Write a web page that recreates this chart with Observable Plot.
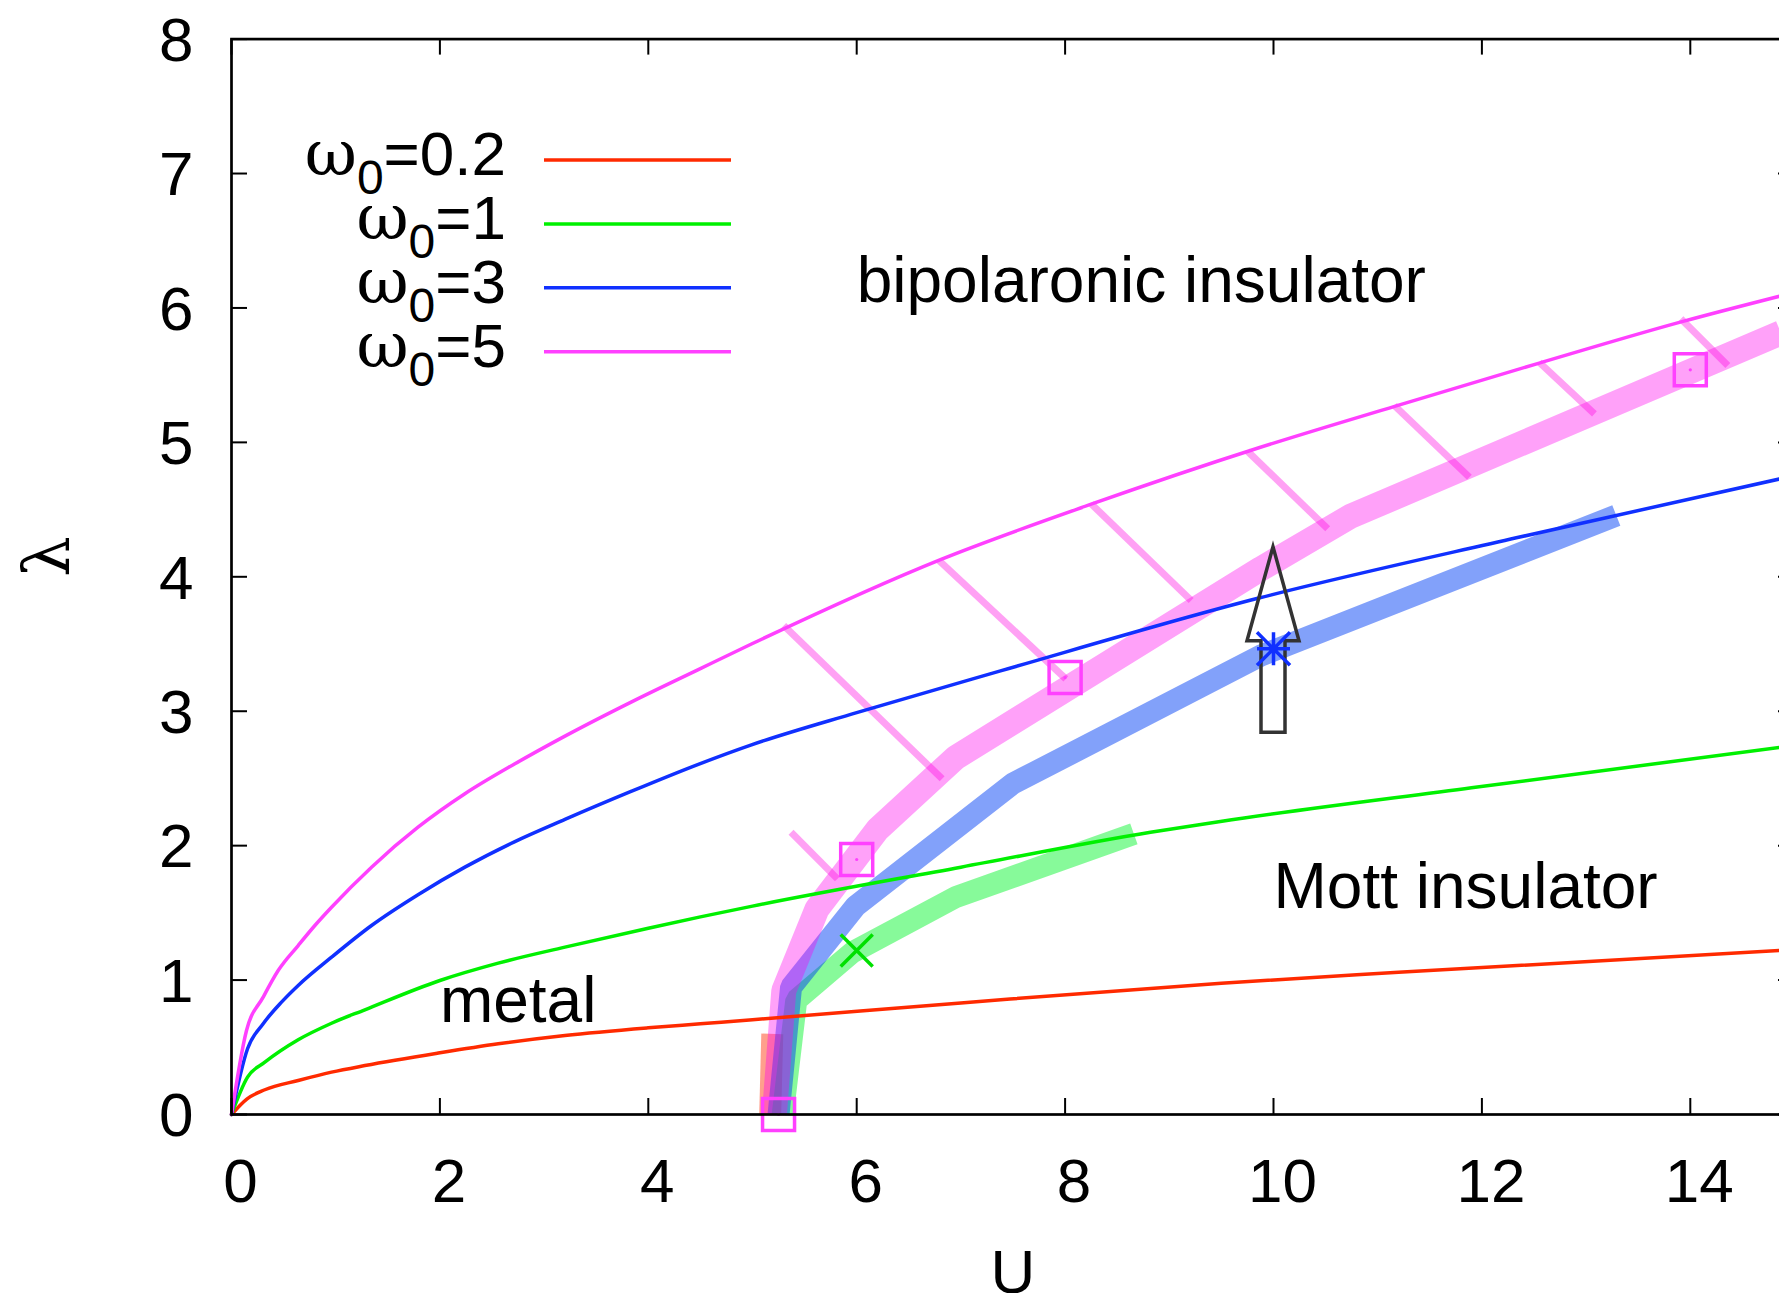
<!DOCTYPE html>
<html>
<head>
<meta charset="utf-8">
<script src="https://cdn.jsdelivr.net/npm/d3@7"></script>
<script src="https://cdn.jsdelivr.net/npm/@observablehq/plot@0.6"></script>
<style>
html, body { margin: 0; padding: 0; background: #fff; }
#wrap { width: 1779px; height: 1293px; overflow: hidden; }
#wrap svg { max-width: none !important; display: block; }
</style>
</head>
<body>
<div id="wrap"></div>
<script>
// ---------- data ----------
// thin curves: lambda_c(U) for each phonon frequency
const redU   = [0, 0.15, 0.32, 0.64, 0.96, 1.28, 2.0, 2.56, 3.2, 4.0, 4.5, 5.0, 7.0, 9.5, 11.2, 14.87];
const redL   = [0, 0.117, 0.184, 0.253, 0.315, 0.364, 0.459, 0.526, 0.588, 0.645, 0.675, 0.705, 0.83, 0.977, 1.058, 1.22];
const greenU = [0, 0.154, 0.32, 0.64, 0.96, 1.28, 2.0, 2.56, 3.2, 4.0, 4.5, 5.0, 7.0, 8.82, 9.49, 11.9, 14.87];
const greenL = [0, 0.278, 0.389, 0.556, 0.679, 0.779, 0.997, 1.126, 1.245, 1.386, 1.47, 1.55, 1.84, 2.10, 2.18, 2.43, 2.732];
const blueU  = [0, 0.154, 0.304, 0.48, 0.64, 0.96, 1.344, 1.79, 2.24, 2.72, 3.2, 3.84, 4.48, 4.99, 6.0, 7.38, 9.85, 12.33, 14.87];
const blueL  = [0, 0.489, 0.675, 0.836, 0.96, 1.17, 1.406, 1.635, 1.84, 2.03, 2.195, 2.405, 2.605, 2.75, 2.99, 3.30, 3.84, 4.29, 4.73];
const magU   = [0, 0.144, 0.304, 0.448, 0.64, 0.8, 0.96, 1.344, 1.79, 2.24, 2.72, 3.2, 3.84, 4.48, 4.99, 6.81, 8.25, 9.86, 11.17, 12.55, 13.93, 14.87];
const magL   = [0, 0.625, 0.873, 1.071, 1.257, 1.406, 1.542, 1.84, 2.137, 2.386, 2.609, 2.815, 3.07, 3.31, 3.50, 4.13, 4.54, 4.96, 5.27, 5.59, 5.90, 6.09];

// thick (transparent) transition lines
const bandRedU   = [5.17, 5.19];
const bandRedL   = [0, 0.6];
const bandGreenU = [5.29, 5.42, 5.96, 6.95, 8.66];
const bandGreenL = [0, 0.85, 1.207, 1.617, 2.088];
const bandBlueU  = [5.25, 5.37, 5.99, 7.495, 9.88, 13.29];
const bandBlueL  = [0, 0.947, 1.55, 2.46, 3.414, 4.456];
const bandPinkU  = [5.21, 5.30, 5.62, 6.2, 6.95, 9.88, 10.74, 14.87];
const bandPinkL  = [0, 0.92, 1.53, 2.12, 2.655, 4.06, 4.45, 5.815];

// hatch segments between the omega0=5 curves
const hatchU1 = [5.37, 5.30, 6.79, 8.25, 9.75, 11.16, 12.55, 13.91];
const hatchL1 = [2.10, 3.638, 4.121, 4.543, 4.935, 5.274, 5.596, 5.919];
const hatchU2 = [5.815, 6.82, 8.007, 9.21, 10.52, 11.88, 13.08, 14.36];
const hatchL2 = [1.753, 2.497, 3.241, 3.824, 4.357, 4.741, 5.212, 5.572];

// point markers
const squareU = [5.25, 6, 8, 14];
const squareL = [0, 1.897, 3.25, 5.54];
const crossU = [6];
const crossL = [1.22];
const starU = [10];
const starL = [3.464];

// arrow annotation
const arrowU = 10, arrowTail = 2.84, arrowHeadBase = 3.52, arrowTip = 4.22;

// region labels
const regionText = ["bipolaronic insulator", "Mott insulator", "metal"];
const regionU = [6.0, 10.0, 2.0];
const regionL = [6.193, 1.692, 0.837];

// legend
const legendValues = ["0.2", "1", "3", "5"];
const legendColors = ["#ff2a00", "#00f000", "#1030ff", "#ff40ff"];

// axes
const xTicks = [0, 2, 4, 6, 8, 10, 12, 14];
const yTicks = [0, 1, 2, 3, 4, 5, 6, 7, 8];

// ---------- helpers ----------
const zip = (U, L) => U.map((u, i) => ({U: u, L: L[i]}));
const hatch = hatchU1.map((u, i) => ({u1: u, l1: hatchL1[i], u2: hatchU2[i], l2: hatchL2[i]}));
const regions = regionText.map((t, i) => ({t, U: regionU[i], L: regionL[i]}));

const half = (size) => Math.sqrt(size / Math.PI);
const gpSquare = {draw(ctx, size) { const h = half(size); ctx.moveTo(-h, -h); ctx.lineTo(h, -h); ctx.lineTo(h, h); ctx.lineTo(-h, h); ctx.closePath(); }};
const gpCross = {draw(ctx, size) { const h = half(size); ctx.moveTo(-h, -h); ctx.lineTo(h, h); ctx.moveTo(h, -h); ctx.lineTo(-h, h); }};
const gpStar = {draw(ctx, size) { const h = half(size); ctx.moveTo(-h, -h); ctx.lineTo(h, h); ctx.moveTo(h, -h); ctx.lineTo(-h, h); ctx.moveTo(-h, 0); ctx.lineTo(h, 0); ctx.moveTo(0, -h); ctx.lineTo(0, h); }};

const W = 1794, H = 1293, ML = 231, MR = 0, MT = 38.6, MB = 179;
const plotW = W - ML - MR, plotH = H - MT - MB;
const sans = "'Liberation Sans', Arial, Helvetica, sans-serif";
const serif = "'DejaVu Serif', 'Liberation Serif', 'Times New Roman', serif";

function arrowMark(index, scales) {
  const x = scales.x, y = scales.y;
  const cx = x(arrowU), yb = y(arrowTail), yh = y(arrowHeadBase), yt = y(arrowTip);
  const s = 12, hh = 26;
  const g = d3.create("svg:g");
  g.append("path")
    .attr("d", `M${cx - s},${yb}L${cx + s},${yb}L${cx + s},${yh}L${cx + hh},${yh}L${cx},${yt}L${cx - hh},${yh}L${cx - s},${yh}Z`)
    .attr("fill", "none").attr("stroke", "#333").attr("stroke-width", 3.5).attr("stroke-linejoin", "miter");
  return g.node();
}

function legendMark() {
  const g = d3.create("svg:g");
  legendValues.forEach((v, i) => {
    const yl = 160 + i * 63.9;
    g.append("line").attr("x1", 544).attr("x2", 731).attr("y1", yl).attr("y2", yl)
      .attr("stroke", legendColors[i]).attr("stroke-width", 3.5);
    const t = g.append("text").attr("x", 506).attr("y", yl + 15).attr("text-anchor", "end")
      .attr("font-size", 62).attr("font-family", sans).attr("fill", "black");
    t.append("tspan").attr("font-family", serif).attr("font-size", 64).text("ω");
    t.append("tspan").attr("font-size", 48).attr("dy", 19).text("0");
    t.append("tspan").attr("dy", -19).text("=" + v);
  });
  return g.node();
}

const plot = Plot.plot({
  width: W, height: H,
  marginLeft: ML, marginRight: MR, marginTop: MT, marginBottom: MB,
  x: {domain: [0, 15]},
  y: {domain: [0, 8]},
  style: {fontFamily: sans, background: "white", maxWidth: "none", overflow: "hidden"},
  marks: [
    // thick transition lines
    Plot.line(zip(bandRedU, bandRedL), {x: "U", y: "L", stroke: "#ff2a00", strokeOpacity: 0.45, strokeWidth: 22, strokeLinejoin: "miter", strokeLinecap: "butt"}),
    Plot.line(zip(bandGreenU, bandGreenL), {x: "U", y: "L", stroke: "#00f528", strokeOpacity: 0.47, strokeWidth: 22, strokeLinejoin: "miter", strokeLinecap: "butt"}),
    Plot.line(zip(bandBlueU, bandBlueL), {x: "U", y: "L", stroke: "#0040f5", strokeOpacity: 0.49, strokeWidth: 22, strokeLinejoin: "miter", strokeLinecap: "butt"}),
    Plot.line(zip(bandPinkU, bandPinkL), {x: "U", y: "L", stroke: "#ff00f0", strokeOpacity: 0.37, strokeWidth: 25, strokeLinejoin: "miter", strokeLinecap: "butt"}),
    Plot.link(hatch, {x1: "u1", y1: "l1", x2: "u2", y2: "l2", stroke: "#ff00e0", strokeOpacity: 0.37, strokeWidth: 7, strokeLinecap: "butt"}),
    // thin curves
    Plot.line(zip(redU, redL), {x: "U", y: "L", stroke: "#ff2a00", strokeWidth: 3.5, curve: "monotone-x"}),
    Plot.line(zip(greenU, greenL), {x: "U", y: "L", stroke: "#00f000", strokeWidth: 3.5, curve: "monotone-x"}),
    Plot.line(zip(blueU, blueL), {x: "U", y: "L", stroke: "#1030ff", strokeWidth: 3.5, curve: "monotone-x"}),
    Plot.line(zip(magU, magL), {x: "U", y: "L", stroke: "#ff40ff", strokeWidth: 3.5, curve: "monotone-x"}),
    // arrow
    arrowMark,
    // markers
    Plot.dot(zip(squareU, squareL), {x: "U", y: "L", r: 16, symbol: gpSquare, fill: "none", stroke: "#ff40ff", strokeWidth: 3.5}),
    Plot.dot(zip(squareU, squareL), {x: "U", y: "L", r: 1.6, fill: "#ff40ff", stroke: "none"}),
    Plot.dot(zip(crossU, crossL), {x: "U", y: "L", r: 16, symbol: gpCross, fill: "none", stroke: "#00e000", strokeWidth: 3.5}),
    Plot.dot(zip(starU, starL), {x: "U", y: "L", r: 16.5, symbol: gpStar, fill: "none", stroke: "#1030ff", strokeWidth: 3.5}),
    // region labels
    Plot.text(regions, {x: "U", y: "L", text: "t", textAnchor: "start", lineAnchor: "middle", fontSize: 64, fill: "black"}),
    // legend
    legendMark,
    // frame & inward ticks
    Plot.frame({stroke: "black", strokeWidth: 2.7}),
    Plot.ruleX(xTicks, {insetTop: plotH - 16, stroke: "black", strokeWidth: 2}),
    Plot.ruleX(xTicks, {insetBottom: plotH - 16, stroke: "black", strokeWidth: 2}),
    Plot.ruleY(yTicks, {insetRight: plotW - 16, stroke: "black", strokeWidth: 2}),
    Plot.ruleY(yTicks, {insetLeft: plotW - 16, stroke: "black", strokeWidth: 2}),
    // tick labels
    Plot.axisX({ticks: xTicks, anchor: "bottom", tickSize: 0, tickPadding: 43, fontSize: 62, dx: 9, label: null}),
    Plot.axisY({ticks: yTicks, anchor: "left", tickSize: 0, tickPadding: 38, fontSize: 62, dy: 2, label: null}),
    // axis titles
    Plot.text(["U"], {frameAnchor: "bottom", text: d => d, dy: 134, lineAnchor: "top", fontSize: 62, fill: "black"}),
    Plot.text(["λ"], {frameAnchor: "left", text: d => d, rotate: -90, dx: -183.5, lineAnchor: "middle", fontSize: 64, fontFamily: serif, fill: "black"})
  ]
});

document.getElementById("wrap").appendChild(plot);
</script>
</body>
</html>
